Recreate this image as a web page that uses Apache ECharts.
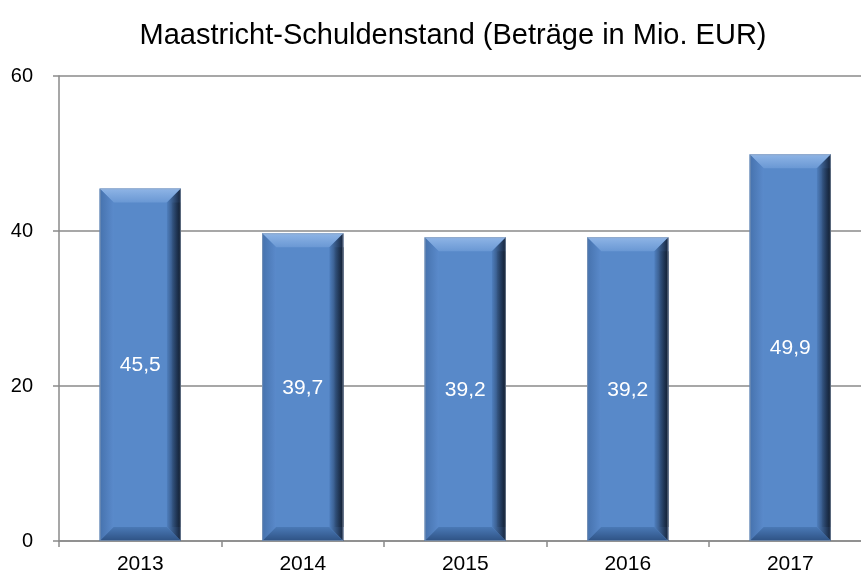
<!DOCTYPE html>
<html>
<head>
<meta charset="utf-8">
<script src="https://cdn.jsdelivr.net/npm/echarts@6/dist/echarts.min.js"></script>
<style>
	html, body { margin: 0; padding: 0; background: #fff; }
	#chart { width: 861px; height: 576px; }
</style>
</head>
<body>
<div id="chart"></div>
<script>
const years = ["2013", "2014", "2015", "2016", "2017"];
const debt = [45.5, 39.7, 39.2, 39.2, 49.9];
const yTicks = [0, 20, 40, 60];
const chartTitle = "Maastricht-Schuldenstand (Beträge in Mio. EUR)";

const axisGray = "#8a8a8a";
const font = "'Liberation Sans', Arial, sans-serif";

// bevelled bar, drawn from the axis coordinates
function renderBar(params, api) {
	const idx = api.value(0);
	const val = api.value(1);
	const top = api.coord([idx, val]);
	const base = api.coord([idx, 0]);
	const w = api.size([1, 0])[0] * 0.5;
	const x0 = top[0] - w / 2;
	const x1 = top[0] + w / 2;
	const y0 = top[1];
	const y1 = base[1];
	const b = 14;
	const sb = 9;
	const poly = (pts, fill) => ({ type: "polygon", shape: { points: pts }, style: { fill: fill } });
	const vgrad = (c0, c1) => new echarts.graphic.LinearGradient(0, 0, 0, 1, [{ offset: 0, color: c0 }, { offset: 1, color: c1 }]);
	const hgrad = (c0, c1) => new echarts.graphic.LinearGradient(0, 0, 1, 0, [{ offset: 0, color: c0 }, { offset: 1, color: c1 }]);
	return {
		type: "group",
		children: [
			{ type: "rect", shape: { x: x0, y: y0, width: w, height: y1 - y0 }, style: { fill: "#5889c9" } },
			poly([[x0, y0], [x1, y0], [x1 - b, y0 + b], [x0 + b, y0 + b]], vgrad("#8fb5e6", "#6a98d4")),
			poly([[x0, y0], [x0 + b, y0 + b], [x0 + b, y1 - b], [x0, y1]], hgrad("#4672ad", "#5a8acb")),
			poly([[x1, y0], [x1, y1], [x1 - b, y1 - b], [x1 - b, y0 + b]], hgrad("#4f7fbe", "#15233a")),
			poly([[x0, y1], [x0 + b, y1 - b], [x1 - b, y1 - b], [x1, y1]], vgrad("#4a79b6", "#2e5284")),
			{ type: "rect", shape: { x: x1 - sb, y: y0 + b, width: sb, height: y1 - y0 - 2 * b }, style: { fill: hgrad("rgba(40,70,110,0.2)", "#121e30") } },
			{ type: "rect", shape: { x: x0 + 0.5, y: y0 + 0.5, width: w - 1, height: y1 - y0 - 1 }, style: { fill: "none", stroke: "rgba(150,165,185,0.6)", lineWidth: 1 } },
			{
				type: "text",
				x: top[0],
				y: (y0 + y1) / 2 + 1,
				scaleX: 1.05,
				style: {
					text: String(val).replace(".", ","),
					fill: "#ffffff",
					font: "20px " + font,
					align: "center",
					verticalAlign: "middle"
				}
			}
		]
	};
}

const chart = echarts.init(document.getElementById("chart"));
chart.setOption({
	animation: false,
	backgroundColor: "#ffffff",
	title: {
		text: chartTitle,
		left: 448,
		top: 16,
		textAlign: "center",
		textStyle: { fontFamily: font, fontSize: 29, fontWeight: "normal", color: "#000" }
	},
	grid: { left: 59, width: 812.5, top: 76, bottom: 35, containLabel: false, outerBoundsMode: "none" },
	xAxis: {
		type: "category",
		data: years,
		axisLine: { lineStyle: { color: axisGray, width: 1.5 } },
		axisTick: { show: true, length: 6, lineStyle: { color: axisGray, width: 1.5 } },
		axisLabel: { color: "#000", fontFamily: font, fontSize: 21, margin: 13 }
	},
	yAxis: {
		type: "value",
		min: yTicks[0],
		max: yTicks[yTicks.length - 1],
		interval: 20,
		axisLine: { show: true, lineStyle: { color: axisGray, width: 1.5 } },
		axisTick: { show: true, length: 6, lineStyle: { color: axisGray, width: 1.5 } },
		splitLine: { lineStyle: { color: axisGray, width: 1.5 } },
		axisLabel: { color: "#000", fontFamily: font, fontSize: 20, margin: 26 }
	},
	series: [{
		type: "custom",
		renderItem: renderBar,
		encode: { x: 0, y: 1 },
		data: debt.map((v, i) => [i, v]),
		z: 3
	}]
});
</script>
</body>
</html>
